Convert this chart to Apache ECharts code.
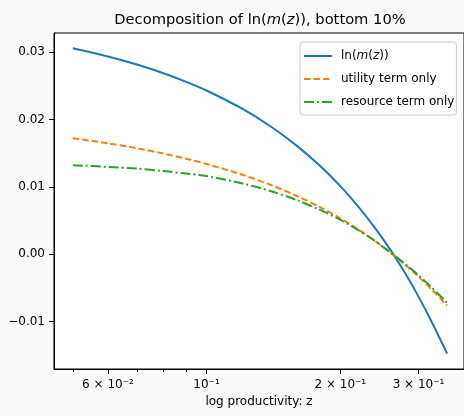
<!DOCTYPE html>
<html>
<head>
<meta charset="utf-8">
<script src="https://cdn.jsdelivr.net/npm/echarts@6/dist/echarts.min.js"></script>
<style>
html,body{margin:0;padding:0;background:#fafafa;}
#c{width:464px;height:416px;}
</style>
</head>
<body>
<div id="c"></div>
<script>
// ---- data ----
var zValues = [0.05,0.06,0.07,0.08,0.09,0.10,0.12,0.14,0.16,0.18,0.20,0.22,0.24,0.26,0.28,0.30,0.32,0.348];
var lnM = [0.0306,0.02939,0.02816,0.0269,0.02562,0.02433,0.02166,0.01891,0.01607,0.01314,0.01012,0.00702,0.00383,0.00055,-0.00282,-0.00628,-0.00982,-0.01475];
var utilityOnly = [0.01724,0.01649,0.01573,0.01496,0.01419,0.01342,0.01185,0.01026,0.00864,0.00700,0.00534,0.00365,0.00194,0.00021,-0.00154,-0.00332,-0.00512,-0.0076];
var resourceOnly = [0.01324,0.01299,0.01273,0.01236,0.01199,0.01162,0.01055,0.00936,0.00804,0.0066,0.00514,0.00355,0.00194,0.00021,-0.00144,-0.00312,-0.00482,-0.0072];
var seriesNames = ['ln(m(z))','utility term only','resource term only'];
var xMajorTicks = [0.06,0.1,0.2,0.3];
var xMajorLabels = ['6 × 10⁻²','10⁻¹','2 × 10⁻¹','3 × 10⁻¹'];
var xMinorTicks = [0.05,0.07,0.08,0.09];
var yTicks = [-0.01,0,0.01,0.02,0.03];

var FONT = 'DejaVu Sans';
function pairs(ys){ return zValues.map(function(z,i){ return [z, ys[i]]; }); }
function xLabel(v){
  for (var i=0;i<xMajorTicks.length;i++){ if (Math.abs(v-xMajorTicks[i])<1e-6) return xMajorLabels[i]; }
  return '';
}
var chart = echarts.init(document.getElementById('c'), null, {renderer:'canvas'});
var option = {
  animation:false,
  backgroundColor:'#fafafa',
  title:{
    text:'Decomposition of ln({i|m}({i|z})), bottom 10%',
    left:255, top:8, textAlign:'center',
    textStyle:{fontFamily:FONT,fontSize:14.7,fontWeight:'normal',color:'#000',
      rich:{i:{fontFamily:FONT,fontSize:14.7,fontStyle:'italic',color:'#000'}}}
  },
  grid:{left:54, top:33, width:413, height:336, show:true, backgroundColor:'#fff', borderColor:'#000', borderWidth:1, containLabel:false},
  legend:{
    orient:'vertical', left:300, top:42,
    data:seriesNames,
    itemWidth:28, itemHeight:12, itemGap:11,
    padding:[8,2,7,3],
    itemStyle:{opacity:0},
    backgroundColor:'rgba(255,255,255,0.8)', borderColor:'#cccccc', borderWidth:1, borderRadius:3,
    formatter:function(n){ return n==='ln(m(z))' ? 'ln({i|m}({i|z}))' : n; },
    textStyle:{fontFamily:FONT,fontSize:12,color:'#000',padding:[0,0,0,4],
      rich:{i:{fontFamily:FONT,fontSize:12,fontStyle:'italic',color:'#000'}}}
  },
  xAxis:[{
    type:'log', logBase:10, min:0.04536, max:0.3797,
    name:'log productivity: z', nameLocation:'middle', nameGap:26,
    nameTextStyle:{fontFamily:FONT,fontSize:12,color:'#000'},
    axisLine:{show:true,onZero:false,lineStyle:{color:'#000',width:1}},
    axisTick:{show:true,length:5,lineStyle:{color:'#000',width:1},customValues:xMajorTicks},
    axisLabel:{show:true,margin:10,customValues:xMajorTicks,formatter:xLabel,
      fontFamily:FONT,fontSize:12,color:'#000'},
    splitLine:{show:false}, minorTick:{show:false}, minorSplitLine:{show:false}
  },{
    type:'log', logBase:10, min:0.04536, max:0.3797, position:'bottom', gridIndex:0,
    axisLine:{show:false,onZero:false},
    axisTick:{show:true,length:3,lineStyle:{color:'#000',width:1},customValues:xMinorTicks},
    axisLabel:{show:false},
    splitLine:{show:false}
  }],
  yAxis:{
    type:'value', min:-0.01703, max:0.03287,
    axisLine:{show:true,onZero:false,lineStyle:{color:'#000',width:1}},
    axisTick:{show:true,length:5,lineStyle:{color:'#000',width:1},customValues:yTicks},
    axisLabel:{show:true,margin:9,customValues:yTicks,fontFamily:FONT,fontSize:12,color:'#000',
      formatter:function(v){ return v.toFixed(2).replace('-','−'); }},
    splitLine:{show:false}
  },
  series:[
    {name:seriesNames[0], type:'line', data:pairs(lnM), showSymbol:false, symbol:'none', smooth:0.3,
     color:'#1f77b4', lineStyle:{color:'#1f77b4',width:2,type:'solid'}},
    {name:seriesNames[1], type:'line', data:pairs(utilityOnly), showSymbol:false, symbol:'none', smooth:0.3,
     color:'#ff7f0e', lineStyle:{color:'#ff7f0e',width:2,type:[6.5,3]}},
    {name:seriesNames[2], type:'line', data:pairs(resourceOnly), showSymbol:false, symbol:'none', smooth:0.3,
     color:'#2ca02c', lineStyle:{color:'#2ca02c',width:2,type:[10,3,2,3]}}
  ]
};
chart.setOption(option);
</script>
</body>
</html>
